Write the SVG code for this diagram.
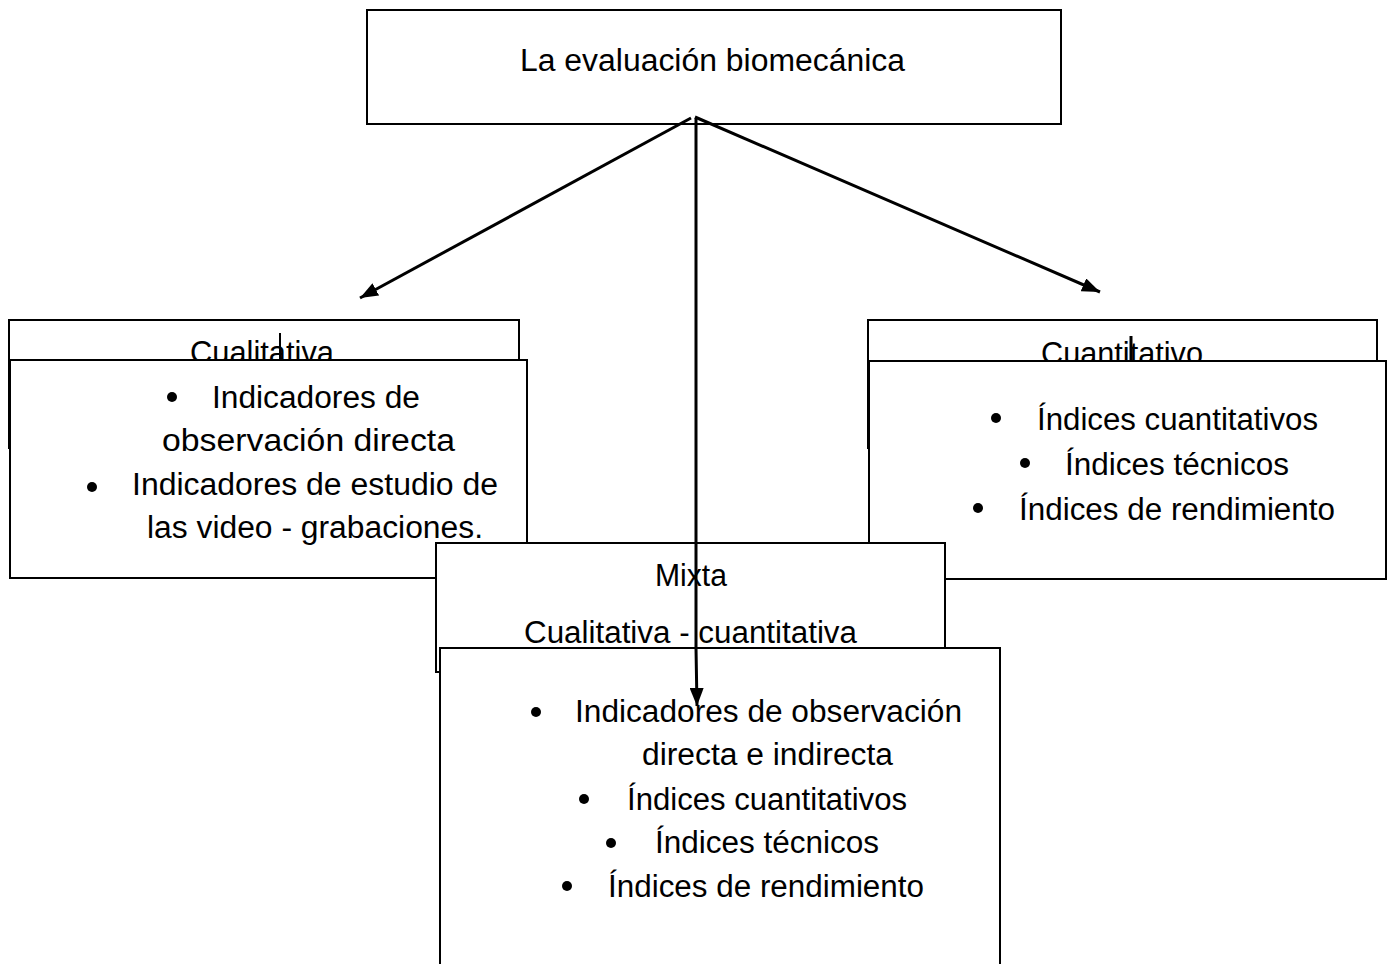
<svg xmlns="http://www.w3.org/2000/svg" width="1388" height="964" viewBox="0 0 1388 964">
<style>
.box{fill:#fff;stroke:#000;stroke-width:2}
.t{font-family:"Liberation Sans",Arial,sans-serif;font-size:31px;fill:#000}
.dot{fill:#000}
.con{stroke:#000;stroke-width:3;fill:none}
</style>
<defs>
<marker id="ah" markerUnits="userSpaceOnUse" markerWidth="20" markerHeight="14" refX="18" refY="7" orient="auto">
<path d="M0,0 L18,7 L0,14 Z" fill="#000"/>
</marker>
</defs>
<rect width="1388" height="964" fill="#fff"/>
<g id="root">
<rect class="box" x="367" y="10" width="694" height="114"/>
<text class="t" x="520" y="71" textLength="385" lengthAdjust="spacingAndGlyphs">La evaluación biomecánica</text>
</g>
<g id="cualitativa">
<rect class="box" x="9" y="320" width="510" height="128"/>
<text class="t" x="190" y="363" textLength="144" lengthAdjust="spacingAndGlyphs">Cualitativa</text>
<line x1="280" y1="333" x2="280" y2="360" stroke="#000" stroke-width="2"/>
<rect class="box" x="10" y="360" width="517" height="218"/>
<circle class="dot" cx="172" cy="397" r="5"/>
<text class="t" x="212" y="408" textLength="208" lengthAdjust="spacingAndGlyphs">Indicadores de</text>
<text class="t" x="162" y="451" textLength="293" lengthAdjust="spacingAndGlyphs">observación directa</text>
<circle class="dot" cx="92" cy="487" r="5"/>
<text class="t" x="132" y="495" textLength="366" lengthAdjust="spacingAndGlyphs">Indicadores de estudio de</text>
<text class="t" x="147" y="538" textLength="336" lengthAdjust="spacingAndGlyphs">las video - grabaciones.</text>
</g>
<g id="cuantitativo">
<rect class="box" x="868" y="320" width="509" height="128"/>
<text class="t" x="1041" y="364" textLength="162" lengthAdjust="spacingAndGlyphs">Cuantitativo</text>
<line x1="1131" y1="336" x2="1131" y2="366" stroke="#000" stroke-width="3"/>
<rect class="box" x="869" y="361" width="517" height="218"/>
<circle class="dot" cx="996" cy="418" r="5"/>
<text class="t" x="1037" y="430" textLength="281" lengthAdjust="spacingAndGlyphs">Índices cuantitativos</text>
<circle class="dot" cx="1025" cy="463" r="5"/>
<text class="t" x="1065" y="475" textLength="224" lengthAdjust="spacingAndGlyphs">Índices técnicos</text>
<circle class="dot" cx="978" cy="508" r="5"/>
<text class="t" x="1019" y="520" textLength="316" lengthAdjust="spacingAndGlyphs">Índices de rendimiento</text>
</g>
<g id="mixta">
<rect class="box" x="436" y="543" width="509" height="129"/>
<text class="t" x="655" y="586" textLength="72" lengthAdjust="spacingAndGlyphs">Mixta</text>
<text class="t" x="524" y="643" textLength="333" lengthAdjust="spacingAndGlyphs">Cualitativa - cuantitativa</text>
<rect class="box" x="440" y="648" width="560" height="330"/>
<circle class="dot" cx="536" cy="712" r="5"/>
<text class="t" x="575" y="722" textLength="387" lengthAdjust="spacingAndGlyphs">Indicadores de observación</text>
<text class="t" x="642" y="765" textLength="251" lengthAdjust="spacingAndGlyphs">directa e indirecta</text>
<circle class="dot" cx="584" cy="799" r="5"/>
<text class="t" x="627" y="810" textLength="280" lengthAdjust="spacingAndGlyphs">Índices cuantitativos</text>
<circle class="dot" cx="611" cy="843" r="5"/>
<text class="t" x="655" y="853" textLength="224" lengthAdjust="spacingAndGlyphs">Índices técnicos</text>
<circle class="dot" cx="567" cy="886" r="5"/>
<text class="t" x="608" y="897" textLength="316" lengthAdjust="spacingAndGlyphs">Índices de rendimiento</text>
</g>
<g id="connectors">
<line class="con" x1="691" y1="118" x2="360" y2="298" marker-end="url(#ah)"/>
<line class="con" x1="695" y1="117" x2="1100" y2="292" marker-end="url(#ah)"/>
<polyline class="con" points="696,118 696,648 697,706" marker-end="url(#ah)"/>
</g>
</svg>
